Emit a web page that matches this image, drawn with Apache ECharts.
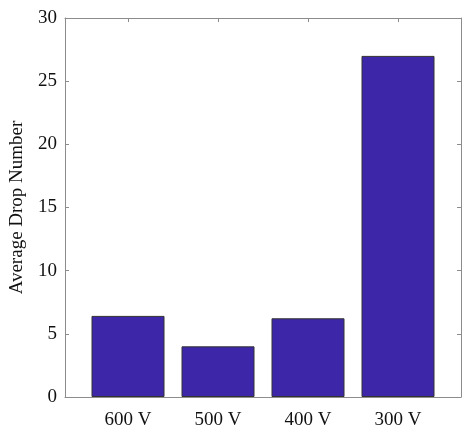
<!DOCTYPE html>
<html><head><meta charset="utf-8">
<script src="https://cdn.jsdelivr.net/npm/echarts@6/dist/echarts.min.js"></script>
<style>html,body{margin:0;padding:0;background:#fff}#c{width:462px;height:430px}</style>
</head><body><div id="c"></div>
<script>
const categories = ['600 V', '500 V', '400 V', '300 V'];
const positions = [1, 2, 3, 4];
const dropNumber = [6.42, 4.01, 6.23, 27.0];
const yTicks = [0, 5, 10, 15, 20, 25, 30];

const font = 'Liberation Serif';
const axisCol = '#8c8c8c';
const chart = echarts.init(document.getElementById('c'), null, {renderer: 'canvas'});
const xCommon = {
  type: 'value', min: 0.3, max: 4.7,
  axisLine: {show: true, onZero: false, lineStyle: {color: axisCol, width: 1}},
  splitLine: {show: false}
};
const yCommon = {
  type: 'value', min: 0, max: 30, interval: 5,
  axisLine: {show: true, lineStyle: {color: axisCol, width: 1}},
  splitLine: {show: false},
  axisTick: {show: true, inside: true, length: 4, lineStyle: {color: axisCol}}
};
chart.setOption({
  animation: false,
  grid: {left: 62, right: 1, top: 18, bottom: 25, containLabel: false},
  xAxis: [
    Object.assign({}, xCommon, {
      position: 'bottom',
      axisTick: {show: true, inside: true, length: 4, customValues: positions, lineStyle: {color: axisCol}},
      axisLabel: {show: true, customValues: positions, margin: 14, color: '#111', fontFamily: font, fontSize: 19,
        formatter: v => categories[positions.indexOf(Math.round(v))] || ''}
    }),
    Object.assign({}, xCommon, {
      position: 'top',
      axisTick: {show: true, inside: true, length: 4, customValues: positions, lineStyle: {color: axisCol}},
      axisLabel: {show: false}
    })
  ],
  yAxis: [
    Object.assign({}, yCommon, {
      position: 'left',
      name: 'Average Drop Number', nameLocation: 'middle', nameGap: 38,
      nameTextStyle: {color: '#111', fontFamily: font, fontSize: 19},
      axisLabel: {show: true, margin: 8, color: '#111', fontFamily: font, fontSize: 19,
        formatter: v => yTicks.includes(v) ? String(v) : ''}
    }),
    Object.assign({}, yCommon, {position: 'right', axisLabel: {show: false}})
  ],
  series: [{
    type: 'bar', xAxisIndex: 0, yAxisIndex: 0,
    barWidth: 73,
    data: positions.map((p, i) => [p, dropNumber[i]]),
    itemStyle: {color: '#3d27a8', borderColor: '#333', borderWidth: 1}
  }]
});
</script></body></html>
